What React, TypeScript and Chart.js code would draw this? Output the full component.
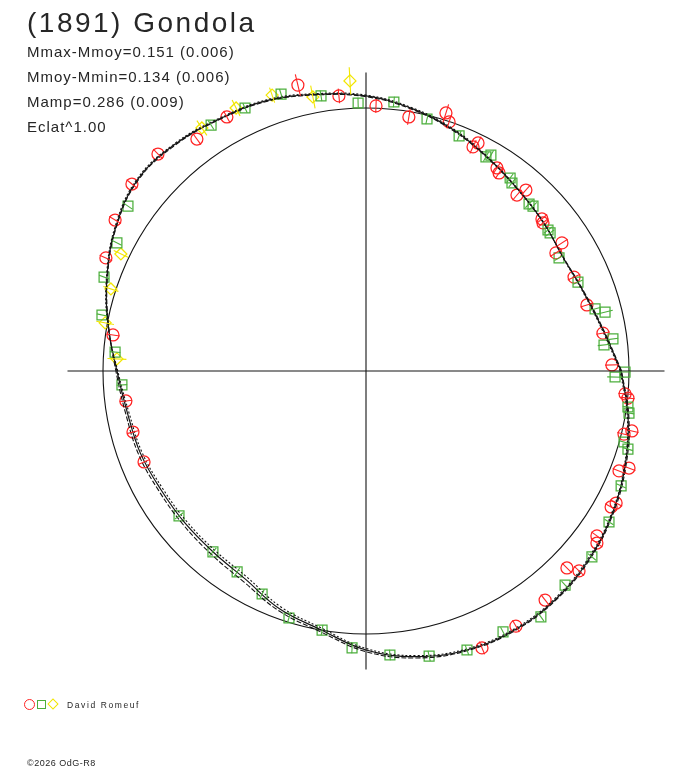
import React, { useEffect, useRef } from "react";
import { Chart, registerables } from "chart.js";

Chart.register(...registerables);

// ---- Light-curve model (polar): phase angle in degrees, relative radius ----
const CURVE_ANGLES = [0, 10, 20, 30, 40, 50, 60, 70, 80, 90, 100, 110, 120, 130, 140, 150, 160, 170,
  180, 190, 200, 210, 220, 230, 240, 250, 260, 270, 280, 290, 300, 310, 320, 330, 340, 350];
const CURVE_SOLID = [0.970, 0.914, 0.880, 0.865, 0.880, 0.900, 0.933, 0.975, 1.013, 1.046, 1.068, 1.095,
  1.108, 1.127, 1.133, 1.098, 1.048, 0.995, 0.947, 0.921, 0.913, 0.901, 0.899, 0.901, 0.915, 0.962,
  0.998, 1.061, 1.103, 1.128, 1.135, 1.128, 1.109, 1.082, 1.049, 1.012];
const CURVE_DASH_A = [0.972, 0.916, 0.882, 0.866, 0.879, 0.899, 0.931, 0.972, 1.010, 1.043, 1.066, 1.092,
  1.106, 1.124, 1.130, 1.096, 1.046, 0.994, 0.951, 0.928, 0.921, 0.910, 0.908, 0.912, 0.927, 0.970,
  1.006, 1.067, 1.108, 1.131, 1.138, 1.131, 1.112, 1.085, 1.052, 1.015];
const CURVE_DASH_B = [0.967, 0.911, 0.878, 0.864, 0.881, 0.901, 0.935, 0.978, 1.016, 1.049, 1.071, 1.098,
  1.111, 1.130, 1.136, 1.101, 1.050, 0.997, 0.944, 0.915, 0.906, 0.893, 0.890, 0.892, 0.905, 0.953,
  0.991, 1.055, 1.099, 1.124, 1.131, 1.124, 1.105, 1.079, 1.046, 1.009];

// ---- Observations: [x, y, radial error] in units of the reference circle ----
const RED_POINTS: [number, number, number][] = [
  [-0.529, 0.966, 0.026], [-0.259, 1.087, 0.042], [-0.103, 1.046, 0.028], [0.038, 1.008, 0.026],
  [0.163, 0.966, 0.030], [0.304, 0.981, 0.034], [0.316, 0.947, 0.026], [0.407, 0.852, 0.028],
  [0.426, 0.867, 0.026], [0.498, 0.772, 0.026], [0.506, 0.753, 0.026], [0.574, 0.669, 0.026],
  [0.608, 0.688, 0.026], [0.669, 0.578, 0.026], [0.673, 0.563, 0.026], [0.745, 0.487, 0.026],
  [0.722, 0.449, 0.026], [0.791, 0.357, 0.026], [0.840, 0.251, 0.026], [0.901, 0.144, 0.026],
  [0.935, 0.023, 0.026], [0.985, -0.087, 0.026], [0.996, -0.103, 0.026], [0.981, -0.240, 0.026],
  [1.011, -0.228, 0.026], [0.962, -0.380, 0.026], [1.000, -0.369, 0.026], [0.932, -0.517, 0.026],
  [0.951, -0.502, 0.026], [0.878, -0.654, 0.026], [0.878, -0.627, 0.026], [0.764, -0.749, 0.026],
  [0.810, -0.760, 0.026], [0.681, -0.871, 0.026], [0.570, -0.970, 0.026], [0.441, -1.053, 0.026],
  [-0.844, -0.346, 0.024], [-0.886, -0.232, 0.024], [-0.913, -0.114, 0.024], [-0.962, 0.137, 0.026],
  [-0.989, 0.430, 0.026], [-0.954, 0.574, 0.026], [-0.890, 0.711, 0.026], [-0.791, 0.825, 0.026],
  [-0.643, 0.882, 0.026],
];
const GREEN_POINTS: [number, number, number][] = [
  [-0.589, 0.935, 0.020], [-0.460, 1.000, 0.020], [-0.323, 1.053, 0.020], [-0.171, 1.046, 0.020],
  [-0.030, 1.019, 0.020], [0.106, 1.023, 0.020], [0.232, 0.958, 0.020], [0.354, 0.894, 0.020],
  [0.456, 0.814, 0.020], [0.475, 0.821, 0.020], [0.548, 0.734, 0.020], [0.555, 0.715, 0.020],
  [0.620, 0.635, 0.020], [0.635, 0.627, 0.020], [0.692, 0.536, 0.020], [0.700, 0.525, 0.020],
  [0.734, 0.430, 0.020], [0.806, 0.338, 0.020], [0.871, 0.236, 0.020], [0.909, 0.224, 0.030],
  [0.939, 0.122, 0.020], [0.905, 0.099, 0.024], [0.985, -0.004, 0.020], [0.947, -0.023, 0.030],
  [0.996, -0.137, 0.020], [1.000, -0.160, 0.020], [0.981, -0.270, 0.020], [0.996, -0.297, 0.020],
  [0.970, -0.437, 0.020], [0.924, -0.574, 0.020], [0.859, -0.707, 0.020], [0.757, -0.814, 0.020],
  [0.665, -0.935, 0.020], [0.521, -0.992, 0.020], [0.384, -1.061, 0.020], [0.240, -1.084, 0.020],
  [0.091, -1.080, 0.020], [-0.053, -1.053, 0.020], [-0.167, -0.985, 0.020], [-0.293, -0.939, 0.020],
  [-0.395, -0.848, 0.020], [-0.490, -0.764, 0.020], [-0.582, -0.688, 0.020], [-0.711, -0.551, 0.020],
  [-0.928, -0.053, 0.020], [-0.954, 0.072, 0.020], [-1.004, 0.213, 0.020], [-0.996, 0.357, 0.020],
  [-0.947, 0.487, 0.020], [-0.905, 0.627, 0.020],
];
const YELLOW_POINTS: [number, number, number][] = [
  [-0.624, 0.924, 0.034], [-0.494, 1.000, 0.034], [-0.357, 1.049, 0.030], [-0.202, 1.042, 0.044],
  [-0.061, 1.103, 0.052], [-0.932, 0.445, 0.030], [-0.970, 0.312, 0.030], [-0.992, 0.183, 0.034],
  [-0.947, 0.046, 0.036],
];

const REF_RADIUS = 1;
const AXIS_EXTENT = 1.135;

const TITLE = "(1891) Gondola";
const STAT_LINES = ["Mmax-Mmoy=0.151 (0.006)", "Mmoy-Mmin=0.134 (0.006)", "Mamp=0.286 (0.009)", "Eclat^1.00"];
const OBSERVER = "David Romeuf";
const COPYRIGHT = "\u00a92026 OdG-R8";

const RED = "#ff2424";
const GREEN = "#4caf3c";
const YELLOW = "#f2e600";
const INK = "#141414";

const W = 688;
const H = 768;
const CX = 366;
const CY = 371;
const UNIT = 263;

function polarToXY(angles: number[], radii: number[]) {
  const pts = angles.map((a, i) => ({
    x: radii[i] * Math.cos((a * Math.PI) / 180),
    y: radii[i] * Math.sin((a * Math.PI) / 180),
  }));
  pts.push({ ...pts[0] });
  return pts;
}

const polarDecor = {
  id: "polarDecor",
  beforeDatasetsDraw(chart: any) {
    const { ctx, scales } = chart;
    const sx = scales.x;
    const sy = scales.y;
    const cx = sx.getPixelForValue(0);
    const cy = sy.getPixelForValue(0);
    const rx = sx.getPixelForValue(REF_RADIUS) - cx;
    const ry = cy - sy.getPixelForValue(REF_RADIUS);
    ctx.save();
    ctx.beginPath();
    ctx.ellipse(cx, cy, rx, ry, 0, 0, Math.PI * 2);
    ctx.strokeStyle = INK;
    ctx.lineWidth = 1.1;
    ctx.stroke();
    ctx.restore();
  },
  afterDatasetsDraw(chart: any) {
    const { ctx, scales } = chart;
    const sx = scales.x;
    const sy = scales.y;
    const groups: [[number, number, number][], string][] = [
      [RED_POINTS, RED],
      [GREEN_POINTS, GREEN],
      [YELLOW_POINTS, YELLOW],
    ];
    ctx.save();
    ctx.lineWidth = 1.1;
    for (const [pts, color] of groups) {
      ctx.strokeStyle = color;
      for (const [x, y, e] of pts) {
        const r = Math.hypot(x, y);
        const ux = x / r;
        const uy = y / r;
        ctx.beginPath();
        ctx.moveTo(sx.getPixelForValue(ux * (r - e)), sy.getPixelForValue(uy * (r - e)));
        ctx.lineTo(sx.getPixelForValue(ux * (r + e)), sy.getPixelForValue(uy * (r + e)));
        ctx.stroke();
      }
    }
    ctx.restore();
  },
};

function ChartCanvas() {
  const ref = useRef<HTMLCanvasElement | null>(null);
  useEffect(() => {
    if (!ref.current) return;
    const lineDs = (data: any[], dash: number[], width: number) => ({
      type: "line" as const,
      data,
      showLine: true,
      borderColor: INK,
      borderWidth: width,
      borderDash: dash,
      pointRadius: 0,
      tension: 0.4,
      fill: false,
    });
    const markerDs = (pts: [number, number, number][], color: string, style: string, radius: number) => ({
      type: "scatter" as const,
      data: pts.map(([x, y]) => ({ x, y })),
      showLine: false,
      pointStyle: style,
      pointRadius: radius,
      pointBorderWidth: 1.25,
      pointBorderColor: color,
      pointBackgroundColor: "rgba(0,0,0,0)",
    });
    const chart = new Chart(ref.current, {
      type: "scatter",
      data: {
        datasets: [
          lineDs([{ x: -AXIS_EXTENT, y: 0 }, { x: AXIS_EXTENT, y: 0 }], [], 1.1),
          lineDs([{ x: 0, y: -AXIS_EXTENT }, { x: 0, y: AXIS_EXTENT }], [], 1.1),
          lineDs(polarToXY(CURVE_ANGLES, CURVE_SOLID), [], 1.2),
          lineDs(polarToXY(CURVE_ANGLES, CURVE_DASH_A), [5, 2], 1.1),
          lineDs(polarToXY(CURVE_ANGLES, CURVE_DASH_B), [2, 2], 1.1),
          markerDs(GREEN_POINTS, GREEN, "rect", 7),
          markerDs(RED_POINTS, RED, "circle", 6),
          markerDs(YELLOW_POINTS, YELLOW, "rectRot", 6),
        ] as any,
      },
      options: {
        animation: false,
        responsive: false,
        maintainAspectRatio: false,
        layout: { padding: 0, autoPadding: false },
        plugins: { legend: { display: false }, tooltip: { enabled: false }, title: { display: false } },
        scales: {
          x: { type: "linear", display: false, min: -CX / UNIT, max: (W - CX) / UNIT },
          y: { type: "linear", display: false, min: -(H - CY) / UNIT, max: CY / UNIT },
        },
      } as any,
      plugins: [polarDecor],
    });
    return () => chart.destroy();
  }, []);
  return <canvas ref={ref} width={W} height={H} style={{ position: "absolute", left: 0, top: 0 }} />;
}

const FONT = '"Liberation Sans", Arial, Helvetica, sans-serif';

export default function App() {
  return (
    <div style={{ position: "absolute", left: 0, top: 0, width: W, height: H, background: "#fff", overflow: "hidden" }}>
      <ChartCanvas />
      <div style={{ position: "absolute", left: 27, top: 9, fontFamily: FONT, fontSize: 28, lineHeight: "28px", letterSpacing: "2.5px", color: "#262626", whiteSpace: "nowrap" }}>
        {TITLE}
      </div>
      {STAT_LINES.map((t, i) => (
        <div key={i} style={{ position: "absolute", left: 27, top: 39 + i * 25, fontFamily: FONT, fontSize: 15, lineHeight: "25px", letterSpacing: "1px", color: "#262626", whiteSpace: "nowrap" }}>
          {t}
        </div>
      ))}
      <span style={{ position: "absolute", left: 24, top: 699, width: 9, height: 9, border: `1px solid ${RED}`, borderRadius: "50%" }} />
      <span style={{ position: "absolute", left: 37, top: 700, width: 7, height: 7, border: `1px solid ${GREEN}` }} />
      <span style={{ position: "absolute", left: 49, top: 700, width: 6, height: 6, border: `1px solid ${YELLOW}`, transform: "rotate(45deg)" }} />
      <div style={{ position: "absolute", left: 67, top: 700, fontFamily: FONT, fontSize: 8.5, lineHeight: "10px", letterSpacing: "1.6px", color: "#262626", whiteSpace: "nowrap" }}>
        {OBSERVER}
      </div>
      <div style={{ position: "absolute", left: 27, top: 758, fontFamily: FONT, fontSize: 9, lineHeight: "10px", letterSpacing: "0.5px", color: "#262626", whiteSpace: "nowrap" }}>
        {COPYRIGHT}
      </div>
    </div>
  );
}
